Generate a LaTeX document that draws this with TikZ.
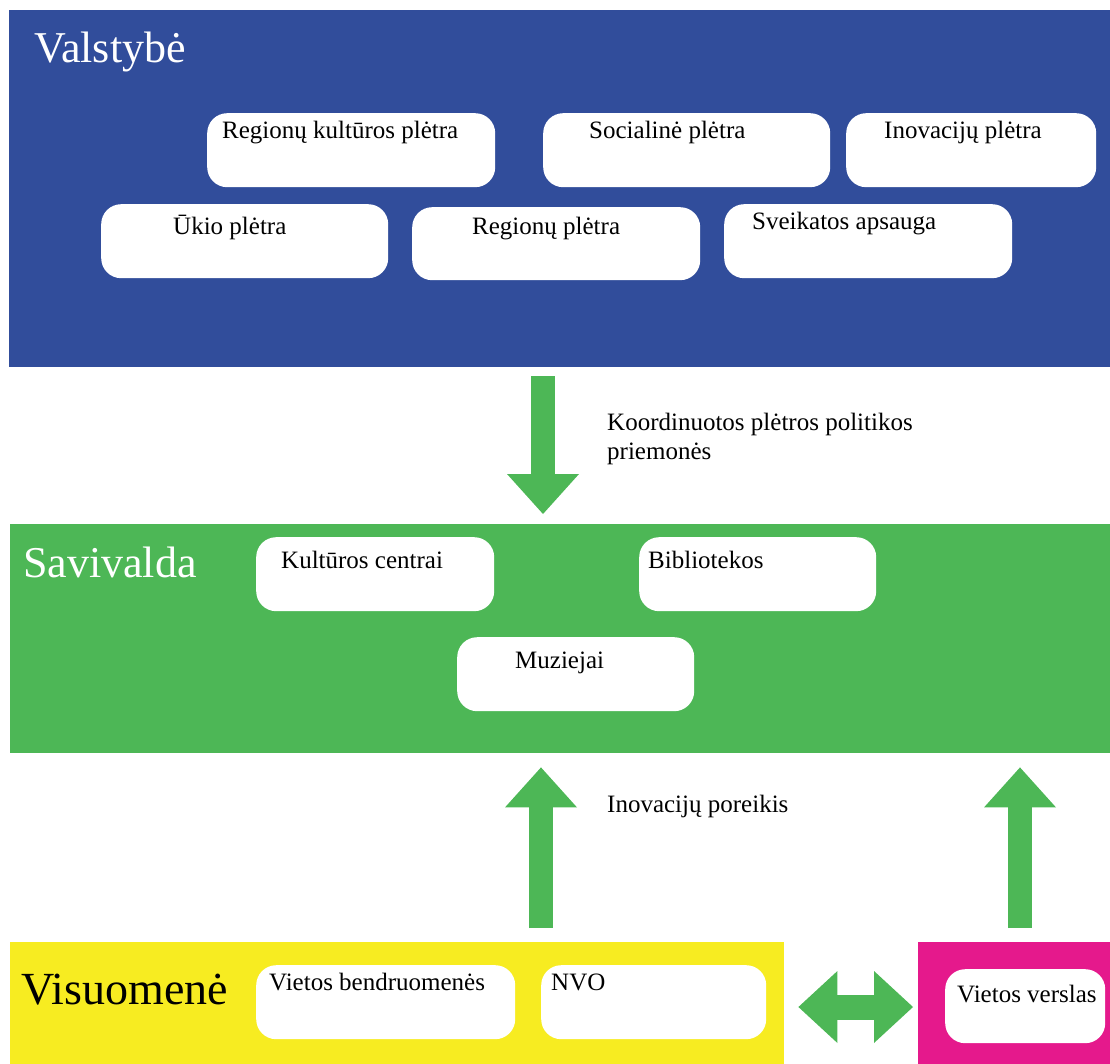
\documentclass[tikz,border=0pt]{standalone}
\usepackage{fontspec}
\setmainfont{Liberation Serif}
\usepackage{xcolor}
\usetikzlibrary{arrows.meta,positioning}
\definecolor{stateblue}{RGB}{49,77,155}
\definecolor{munigreen}{RGB}{77,183,86}
\definecolor{socyellow}{RGB}{247,236,33}
\definecolor{bizpink}{RGB}{229,25,140}
\tikzset{%
    region/.style={draw=none, inner sep=0pt, anchor=north west},
    infobox/.style={draw=none, fill=white, rounded corners=20pt, inner sep=0pt, anchor=north west},
    boxtext/.style={anchor=base west, inner sep=0pt, font=\fontsize{25}{29}\selectfont},
    heading/.style={anchor=base west, inner sep=0pt, font=\fontsize{44}{50}\selectfont},
    bigarrow/.style={draw=munigreen, line width=24pt,
        -{Triangle[width=72pt,length=40pt,line width=0pt]}}
}

\begin{document}
\begin{tikzpicture}[x=1pt,y=-1pt]
    \useasboundingbox (0,0) rectangle (1110,1064);
    % levels
    \node[region, fill=stateblue, minimum width=1101pt, minimum height=357pt] (state) at (9,10) {};
    \node[region, fill=munigreen, minimum width=1100pt, minimum height=229pt] (muni) at (10,524) {};
    \node[region, fill=socyellow, minimum width=774pt, minimum height=122pt] (society) at (10,942) {};
    \node[region, fill=bizpink, minimum width=192pt, minimum height=122pt] (business) at (918,942) {};
    \node[heading, white] (statettl) at (34,63) {Valstybė};
    \node[heading, white] (munittl) at (23,577) {Savivalda};
    \node[heading, font=\fontsize{46}{52}\selectfont] (socttl) at (21,1004) {Visuomenė};

    % state level
    \node[infobox, minimum width=288pt, minimum height=74pt] (culture) at (207,113) {};
    \node[boxtext] at ([shift={(15,26)}]culture.north west) {Regionų kultūros plėtra};
    \node[infobox, minimum width=287pt, minimum height=74pt] (social) at (543,113) {};
    \node[boxtext] at ([shift={(46,26)}]social.north west) {Socialinė plėtra};
    \node[infobox, minimum width=250pt, minimum height=74pt] (innov) at (846,113) {};
    \node[boxtext] at ([shift={(38,26)}]innov.north west) {Inovacijų plėtra};
    \node[infobox, minimum width=287pt, minimum height=74pt] (economy) at (101,204) {};
    \node[boxtext] at ([shift={(72,31)}]economy.north west) {Ūkio plėtra};
    \node[infobox, minimum width=288pt, minimum height=73pt] (regions) at (412,207) {};
    \node[boxtext] at ([shift={(60,28)}]regions.north west) {Regionų plėtra};
    \node[infobox, minimum width=288pt, minimum height=74pt] (health) at (724,204) {};
    \node[boxtext] at ([shift={(28,26)}]health.north west) {Sveikatos apsauga};

    % municipality level
    \node[infobox, minimum width=238pt, minimum height=74pt] (centres) at (256,537) {};
    \node[boxtext] at ([shift={(25,31)}]centres.north west) {Kultūros centrai};
    \node[infobox, minimum width=237pt, minimum height=74pt] (libraries) at (639,537) {};
    \node[boxtext] at ([shift={(9,31)}]libraries.north west) {Bibliotekos};
    \node[infobox, minimum width=237pt, minimum height=74pt] (museums) at (457,637) {};
    \node[boxtext] at ([shift={(58,31)}]museums.north west) {Muziejai};

    % society and business
    \node[infobox, minimum width=259pt, minimum height=74pt] (communities) at (256,965) {};
    \node[boxtext] at ([shift={(13,25)}]communities.north west) {Vietos bendruomenės};
    \node[infobox, minimum width=225pt, minimum height=74pt] (ngo) at (541,965) {};
    \node[boxtext] at ([shift={(10,25)}]ngo.north west) {NVO};
    \node[infobox, minimum width=160pt, minimum height=74pt] (local) at (945,969) {};
    \node[boxtext] at ([shift={(12,33)}]local.north west) {Vietos verslas};

    % arrows
    \coordinate (downx) at (543,0);
    \coordinate (upx) at (541,0);
    \coordinate (bizx) at (1020,0);
    \coordinate (midy) at (0,1007);
    \draw[bigarrow, shorten <=9pt, shorten >=10pt] (state.south -| downx) -- (muni.north -| downx);
    \draw[bigarrow, shorten <=14pt, shorten >=14pt] (society.north -| upx) -- (muni.south -| upx);
    \draw[bigarrow, shorten <=14pt, shorten >=14pt] (business.north -| bizx) -- (muni.south -| bizx);
    \draw[bigarrow, line width=25pt, {Triangle[width=72pt,length=39pt,line width=0pt]}-{Triangle[width=72pt,length=39pt,line width=0pt]},
        shorten <=14pt, shorten >=5pt] (society.east |- midy) -- (business.west |- midy);
    \node[boxtext, align=left] (policy) at (607,459) {Koordinuotos plėtros politikos\\priemonės};
    \node[boxtext] (need) at (607,812) {Inovacijų poreikis};
\end{tikzpicture}
\end{document}
